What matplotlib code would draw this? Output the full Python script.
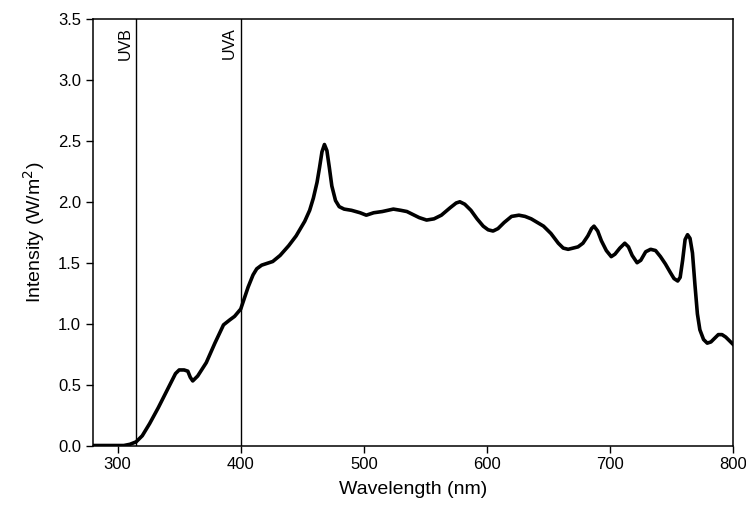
import numpy as np
import matplotlib.pyplot as plt

plt.rcParams['font.family'] = ['Liberation Sans', 'DejaVu Sans']

# spectrum (wavelength nm, intensity W/m2)
wavelength = [280, 290, 300, 305, 310, 315, 320, 326, 333, 339, 344, 347, 350, 354, 357, 359, 361,
              365, 372, 379, 386, 391, 395, 400, 406, 410, 413, 417, 420, 426, 432, 439, 445, 452, 456, 459,
              462, 464, 466, 468, 470, 472, 474, 477, 480, 484, 490, 497, 502, 508, 515, 524, 530, 535, 545, 551, 557, 563, 570,
              575, 578, 582, 587, 592, 597, 601, 605, 609, 614, 620, 626, 631, 636, 641, 646, 652, 658, 662, 666, 670, 674, 678,
              682, 685, 687, 690, 693, 697, 701, 704, 708, 712, 715, 718, 722, 725, 729, 733, 737, 741, 745, 749, 752, 755, 757,
              759, 761, 763, 765, 767, 769, 771, 773, 776, 779, 782, 785, 788, 791, 794, 797, 800]
intensity = [0.0, 0.0, 0.0, 0.0, 0.01, 0.03, 0.08, 0.18, 0.31, 0.43, 0.53, 0.59, 0.62, 0.62, 0.61, 0.56, 0.53,
             0.57, 0.68, 0.84, 0.99, 1.03, 1.06, 1.12, 1.30, 1.40, 1.45, 1.48, 1.49, 1.51, 1.56, 1.64, 1.72, 1.84, 1.93, 2.03,
             2.16, 2.28, 2.41, 2.47, 2.42, 2.28, 2.13, 2.01, 1.96, 1.94, 1.93, 1.91, 1.89, 1.91, 1.92, 1.94, 1.93, 1.92, 1.87, 1.85, 1.86, 1.89, 1.95,
             1.99, 2.0, 1.98, 1.93, 1.86, 1.80, 1.77, 1.76, 1.78, 1.83, 1.88, 1.89, 1.88, 1.86, 1.83, 1.80, 1.74, 1.66, 1.62, 1.61, 1.62, 1.63, 1.66,
             1.72, 1.78, 1.80, 1.76, 1.68, 1.60, 1.55, 1.57, 1.62, 1.66, 1.63, 1.56, 1.50, 1.52, 1.59, 1.61, 1.60, 1.55, 1.49, 1.42, 1.37, 1.35, 1.38,
             1.52, 1.69, 1.73, 1.70, 1.58, 1.32, 1.08, 0.95, 0.87, 0.84, 0.85, 0.88, 0.91, 0.91, 0.89, 0.86, 0.83]

bands = ['UVB', 'UVA']
band_edges = [315, 400]

fig = plt.figure(figsize=(7.46, 5.19), dpi=100)
ax = fig.add_axes([0.1247, 0.1416, 0.858, 0.8218])

ax.plot(wavelength, intensity, color='black', lw=2.6, solid_joinstyle='round')

for name, edge in zip(bands, band_edges):
    ax.axvline(edge, color='black', lw=1.0)
    ax.text(edge - 3, 3.43, name, rotation=90, ha='right', va='top', fontsize=11.5)

ax.set_xlim(280, 800)
ax.set_ylim(0, 3.5)
ax.set_xticks([300, 400, 500, 600, 700, 800])
ax.set_yticks(np.arange(0, 3.51, 0.5))
ax.set_yticklabels(['%.1f' % v for v in np.arange(0, 3.51, 0.5)])
ax.tick_params(direction='out', length=5, width=1, labelsize=12)
for s in ax.spines.values():
    s.set_linewidth(1.1)

ax.set_xlabel('Wavelength (nm)', fontsize=14, labelpad=6)
ax.set_ylabel('Intensity (W/m$^2$)', fontsize=14, labelpad=8)

fig.savefig('out.png', dpi=100)
